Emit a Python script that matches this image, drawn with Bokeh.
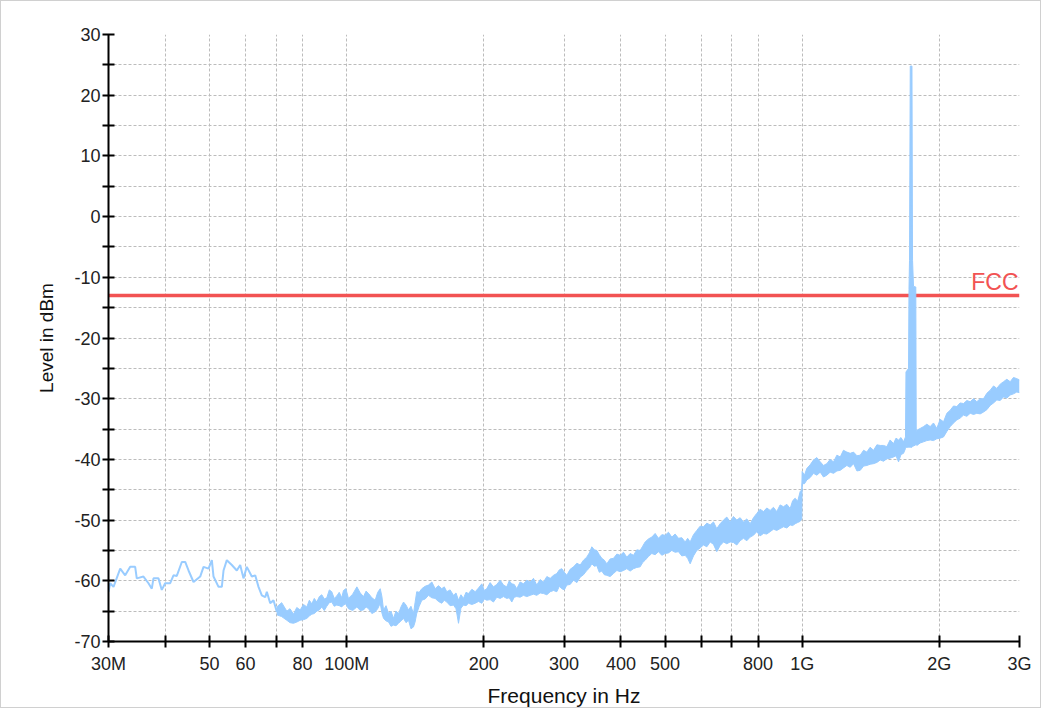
import numpy as np
from bokeh.plotting import figure
from bokeh.models import FixedTicker, Label
from bokeh.embed import file_html
from bokeh.resources import INLINE

# ---------------- data (frequencies in MHz, levels in dBm) ----------------
line_freq_mhz = [30.0, 30.26, 30.77, 31.83, 32.64, 33.48, 34.33, 34.61, 35.80, 36.72,
                 37.34, 37.66, 38.62, 39.27, 39.95, 40.98, 41.67, 42.37, 43.46, 44.21,
                 44.96, 46.11, 47.69, 48.50, 49.74, 50.58, 51.01, 52.32, 53.20, 53.66,
                 54.56, 55.96, 57.39, 58.38, 59.36, 60.36, 61.91, 62.98, 64.04, 65.12,
                 66.25, 66.79, 67.94, 69.08, 70.24, 72.04]
line_level = [-61.8, -60.4, -61.0, -58.0, -59.1, -57.7, -57.7, -59.6, -59.3, -60.4,
              -61.3, -59.6, -59.6, -61.5, -60.4, -60.4, -59.1, -59.2, -56.9, -56.9,
              -58.3, -60.2, -59.3, -57.7, -58.0, -56.6, -59.3, -61.0, -61.0, -58.3,
              -56.6, -57.4, -58.3, -57.4, -59.6, -57.7, -59.3, -59.1, -61.0, -62.4,
              -62.7, -61.8, -63.7, -63.2, -65.1, -64.6]

# noisy band of the trace: frequency, upper edge, lower edge
band_freq_mhz = [
    70.24, 72.0, 73.89, 75.1, 76.43, 77.7, 79.06, 80.4, 81.74, 82.8,
    83.84, 84.9, 85.98, 87.1, 88.18, 89.3, 90.43, 91.6, 92.74, 93.9,
    95.11, 96.3, 97.55, 98.4, 99.6, 100.9, 103.1, 105.3, 107.1, 108.9,
    110.3, 111.7, 113.6, 115.5, 117.0, 118.5, 119.5, 120.5, 122.0, 123.6,
    125.1, 126.7, 128.3, 130.0, 131.6, 133.3, 135.0, 136.7, 138.4, 140.2,
    141.3, 142.5, 144.3, 146.2, 148.7, 151.2, 153.8, 156.4, 159.0, 161.7,
    163.8, 165.9, 168.7, 171.6, 173.8, 176.0, 178.2, 180.5, 182.8, 185.1,
    188.3, 191.5, 194.7, 198.0, 200.5, 203.0, 206.5, 210.0, 213.6, 217.3,
    220.9, 224.6, 227.5, 230.4, 233.3, 236.3, 240.3, 244.4, 248.6, 252.8,
    257.1, 261.4, 265.9, 270.5, 275.1, 279.8, 284.5, 289.3, 293.0, 296.7,
    300.5, 304.3, 309.5, 314.8, 320.2, 325.6, 331.1, 336.6, 341.0, 345.3,
    349.7, 354.1, 358.6, 363.2, 367.8, 372.5, 378.8, 385.3, 391.9, 398.6,
    405.3, 412.1, 419.1, 426.3, 433.5, 440.9, 446.5, 452.2, 459.8, 467.6,
    475.6, 483.7, 491.9, 500.3, 508.7, 517.3, 526.1, 535.1, 544.2, 553.5,
    560.5, 567.7, 577.3, 587.0, 597.0, 607.2, 617.6, 628.1, 638.7, 649.4,
    660.5, 671.8, 683.2, 694.9, 706.6, 718.5, 730.8, 743.2, 755.9, 768.8,
    781.8, 794.9, 808.5, 822.3, 836.3, 850.6, 864.9, 879.5, 894.5, 909.8,
    925.3, 941.1, 953.1, 965.2, 977.5, 990.0, 998.0, 1000.0, 1011.8, 1023.6,
    1041.0, 1059.0, 1077.0, 1095.5, 1114.0, 1132.7, 1152.0, 1171.8, 1192.0, 1212.2,
    1232.0, 1253.3, 1275.0, 1296.5, 1319.0, 1341.2, 1364.0, 1386.7, 1410.0, 1434.4,
    1459.0, 1483.8, 1509.0, 1534.1, 1560.0, 1587.0, 1607.0, 1627.6, 1648.0, 1669.2,
    1686.0, 1690.0, 1712.0, 1716.0, 1720.5, 1727.0, 1742.0, 1747.0, 1755.6, 1776.0,
    1780.0, 1785.4, 1816.0, 1846.9, 1878.0, 1910.5, 1942.0, 1975.2, 2009.0, 2043.3,
    2078.0, 2113.6, 2149.0, 2185.3, 2222.0, 2260.6, 2299.0, 2338.4, 2378.0, 2417.8,
    2459.0, 2501.1, 2544.0, 2587.3, 2631.0, 2675.1, 2721.0, 2767.3, 2814.0, 2862.4,
    2910.0, 2959.2, 3000.0]
band_hi = [
    -64.3, -63.6, -65.0, -64.6, -65.5, -64.4, -64.8, -63.9, -64.3, -63.2,
    -63.8, -62.9, -63.5, -62.6, -62.3, -63.0, -62.8, -61.5, -61.8, -62.9,
    -62.5, -61.9, -62.8, -61.6, -61.3, -62.9, -62.2, -61.0, -62.0, -62.6,
    -61.7, -62.1, -62.8, -63.2, -61.9, -61.3, -62.6, -64.8, -64.1, -65.4,
    -65.0, -66.2, -65.0, -65.4, -64.3, -63.5, -64.0, -64.8, -64.2, -65.4,
    -63.6, -61.8, -61.9, -61.3, -60.9, -60.7, -60.2, -61.3, -60.8, -61.3,
    -61.0, -61.8, -61.5, -62.4, -62.0, -63.2, -62.3, -62.9, -61.9, -62.1,
    -61.4, -61.8, -61.2, -60.5, -61.6, -61.3, -60.3, -61.0, -60.6, -59.9,
    -60.7, -61.0, -60.0, -60.5, -60.6, -61.3, -60.2, -60.5, -59.9, -60.2,
    -59.6, -60.7, -59.8, -60.2, -59.3, -59.6, -59.1, -58.8, -58.2, -58.0,
    -58.6, -59.1, -58.1, -57.7, -57.1, -57.4, -56.6, -56.1, -55.4, -54.4,
    -54.9, -55.0, -55.7, -56.3, -56.6, -57.2, -56.4, -56.3, -55.6, -55.8,
    -55.3, -56.1, -55.5, -55.8, -54.9, -55.0, -54.3, -53.6, -53.1, -52.8,
    -52.2, -53.0, -52.4, -52.5, -52.0, -52.8, -52.3, -53.0, -52.9, -53.6,
    -53.0, -53.6, -52.4, -51.7, -51.0, -51.1, -50.5, -50.8, -50.3, -51.4,
    -50.6, -50.0, -49.5, -50.3, -49.4, -50.0, -49.6, -50.3, -49.8, -50.6,
    -49.6, -48.9, -48.2, -48.6, -48.0, -48.4, -47.9, -48.6, -47.5, -47.8,
    -47.4, -48.1, -46.8, -46.4, -46.9, -45.3, -45.0, -42.0, -42.6, -41.5,
    -40.9, -40.1, -39.7, -40.4, -41.0, -40.7, -40.0, -40.4, -39.3, -39.6,
    -38.5, -38.8, -39.0, -38.8, -39.4, -39.3, -38.5, -38.8, -38.0, -38.5,
    -37.6, -37.7, -37.7, -37.9, -36.8, -37.4, -36.5, -36.8, -36.4, -37.1,
    -36.3, -25.6, -25.0, -12.0, -7.2, 24.8, 24.8, -7.2, -11.5, -11.6,
    -36.0, -35.2, -34.9, -34.6, -34.2, -34.6, -34.0, -34.9, -33.4, -33.8,
    -32.4, -31.9, -31.2, -31.3, -30.7, -30.8, -30.3, -30.5, -30.0, -30.5,
    -30.0, -30.0, -29.1, -28.6, -27.9, -28.3, -27.6, -27.2, -26.8, -27.2,
    -26.5, -26.7, -26.9]
band_lo = [
    -65.6, -65.9, -66.5, -66.9, -67.0, -66.8, -66.5, -66.4, -66.2, -65.8,
    -65.5, -65.4, -65.0, -64.8, -64.3, -64.9, -64.2, -63.6, -63.5, -64.2,
    -64.0, -64.1, -64.3, -64.0, -63.8, -64.6, -64.9, -64.3, -64.9, -64.8,
    -64.3, -64.6, -65.4, -65.1, -64.6, -63.7, -65.3, -66.2, -66.6, -66.8,
    -67.5, -67.3, -67.4, -67.0, -66.6, -66.2, -66.9, -66.5, -67.9, -67.6,
    -66.8, -65.4, -64.2, -63.2, -63.0, -62.4, -62.8, -62.9, -63.4, -63.7,
    -63.2, -63.5, -64.1, -64.0, -64.6, -67.0, -64.5, -64.0, -64.1, -63.7,
    -63.9, -63.7, -63.4, -63.7, -63.0, -63.2, -63.1, -63.5, -62.7, -62.9,
    -62.6, -62.9, -62.8, -63.5, -62.7, -62.6, -62.7, -62.4, -62.6, -62.4,
    -62.2, -62.4, -62.0, -62.1, -62.3, -61.8, -61.6, -61.8, -60.9, -61.3,
    -61.5, -60.7, -60.6, -59.9, -60.3, -59.4, -59.0, -58.3, -57.9, -57.2,
    -57.6, -57.5, -58.6, -58.4, -59.0, -59.1, -59.3, -58.8, -58.3, -58.5,
    -58.3, -58.0, -58.4, -58.0, -57.8, -57.7, -57.0, -56.6, -56.0, -55.5,
    -55.7, -55.2, -55.8, -55.5, -55.4, -55.0, -55.3, -55.2, -55.9, -55.8,
    -56.3, -57.2, -55.9, -55.0, -54.6, -54.1, -54.4, -53.6, -54.0, -55.2,
    -54.2, -53.6, -53.9, -53.6, -53.7, -54.1, -53.4, -53.0, -53.4, -52.8,
    -52.5, -51.9, -52.6, -52.2, -52.3, -51.9, -51.5, -51.7, -51.4, -51.1,
    -51.3, -50.8, -50.9, -50.6, -50.4, -50.2, -49.8, -44.0, -44.0, -43.4,
    -43.0, -42.3, -42.6, -42.1, -42.9, -42.6, -42.1, -42.3, -41.9, -41.8,
    -41.4, -41.0, -41.3, -40.7, -41.9, -41.8, -41.1, -41.0, -40.8, -40.7,
    -40.5, -40.1, -40.3, -39.9, -39.8, -39.6, -39.4, -40.4, -39.2, -39.0,
    -38.2, -38.0, -38.0, -38.0, -38.0, -38.0, -38.0, -37.8, -37.8, -37.6,
    -37.6, -37.7, -37.3, -37.1, -36.9, -36.8, -36.9, -36.6, -36.5, -36.3,
    -35.4, -34.6, -34.0, -33.5, -33.2, -32.7, -32.9, -32.4, -32.6, -32.4,
    -32.5, -32.2, -31.8, -31.1, -30.7, -30.2, -30.3, -29.7, -29.9, -29.4,
    -29.2, -28.9, -29.0]

fcc_limit_dbm = -13.0
fcc_label = "FCC"

x_ticks_mhz = [30, 40, 50, 60, 70, 80, 100, 200, 300, 400, 500, 600, 700, 800, 1000, 2000, 3000]
x_tick_labels = ["30M", "", "50", "60", "", "80", "100M", "200", "300", "400", "500", "", "",
                 "800", "1G", "2G", "3G"]
y_ticks = list(range(-70, 31, 5))
y_tick_labels = [str(v) if v % 10 == 0 else "" for v in y_ticks]

# ---------------- styling ----------------
TRACE = "#99ccff"
RED = "#f25353"
FONT = "Liberation Sans"

line_freq = np.array(line_freq_mhz) * 1e6
band_freq = np.array(band_freq_mhz) * 1e6
x_ticks = [int(v * 1e6) for v in x_ticks_mhz]

p = figure(width=1041, height=708, x_axis_type="log",
           x_range=(x_ticks[0], x_ticks[-1]), y_range=(y_ticks[0], y_ticks[-1]),
           output_backend="svg", toolbar_location=None,
           min_border_left=107, min_border_right=23, min_border_top=33, min_border_bottom=68)
p.outline_line_color = None
p.background_fill_color = "white"
p.border_fill_color = "white"
p.styles = {"border": "1px solid #d0d0d0", "box-sizing": "border-box"}

# axes
p.xaxis.ticker = FixedTicker(ticks=x_ticks, minor_ticks=[])
p.xaxis.major_label_overrides = {t: l for t, l in zip(x_ticks, x_tick_labels)}
p.yaxis.ticker = FixedTicker(ticks=y_ticks, minor_ticks=[])
p.yaxis.major_label_overrides = {t: l for t, l in zip(y_ticks, y_tick_labels)}

for ax in (p.xaxis[0], p.yaxis[0]):
    ax.axis_line_color = "black"
    ax.axis_line_width = 2
    ax.major_tick_line_color = "black"
    ax.major_tick_line_width = 2
    ax.major_tick_in = 6
    ax.major_tick_out = 6
    ax.minor_tick_line_color = None
    ax.major_label_text_font = FONT
    ax.major_label_text_font_size = "18px"
    ax.major_label_text_color = "#222222"
    ax.axis_label_text_font = FONT
    ax.axis_label_text_font_style = "normal"
    ax.axis_label_text_color = "#111111"

p.xaxis.axis_label = "Frequency in Hz"
p.xaxis.axis_label_text_font_size = "21px"
p.xaxis.major_label_standoff = 6
p.xaxis.axis_label_standoff = 7
p.yaxis.axis_label = "Level in dBm"
p.yaxis.axis_label_text_font_size = "19px"
p.yaxis.major_label_standoff = 2
p.yaxis.axis_label_standoff = 14

p.grid.grid_line_color = "#bcbcbc"
p.grid.grid_line_dash = "3 2"
p.grid.grid_line_width = 1

# FCC limit line (drawn under the trace)
p.line(x=[line_freq[0], band_freq[-1]], y=[fcc_limit_dbm, fcc_limit_dbm],
       line_color=RED, line_width=3.5)

# trace
p.line(x=line_freq, y=line_level, line_color=TRACE, line_width=2)
p.varea(x=band_freq, y1=band_lo, y2=band_hi, fill_color=TRACE)
p.line(x=band_freq, y=band_hi, line_color=TRACE, line_width=1)
p.line(x=band_freq, y=band_lo, line_color=TRACE, line_width=1)

p.add_layout(Label(x=band_freq[-1], y=fcc_limit_dbm, text=fcc_label,
                   text_align="right", text_baseline="bottom", x_offset=-1, y_offset=1,
                   text_color=RED, text_font=FONT, text_font_size="23px"))

open("out.html", "w").write(file_html(p, INLINE))
